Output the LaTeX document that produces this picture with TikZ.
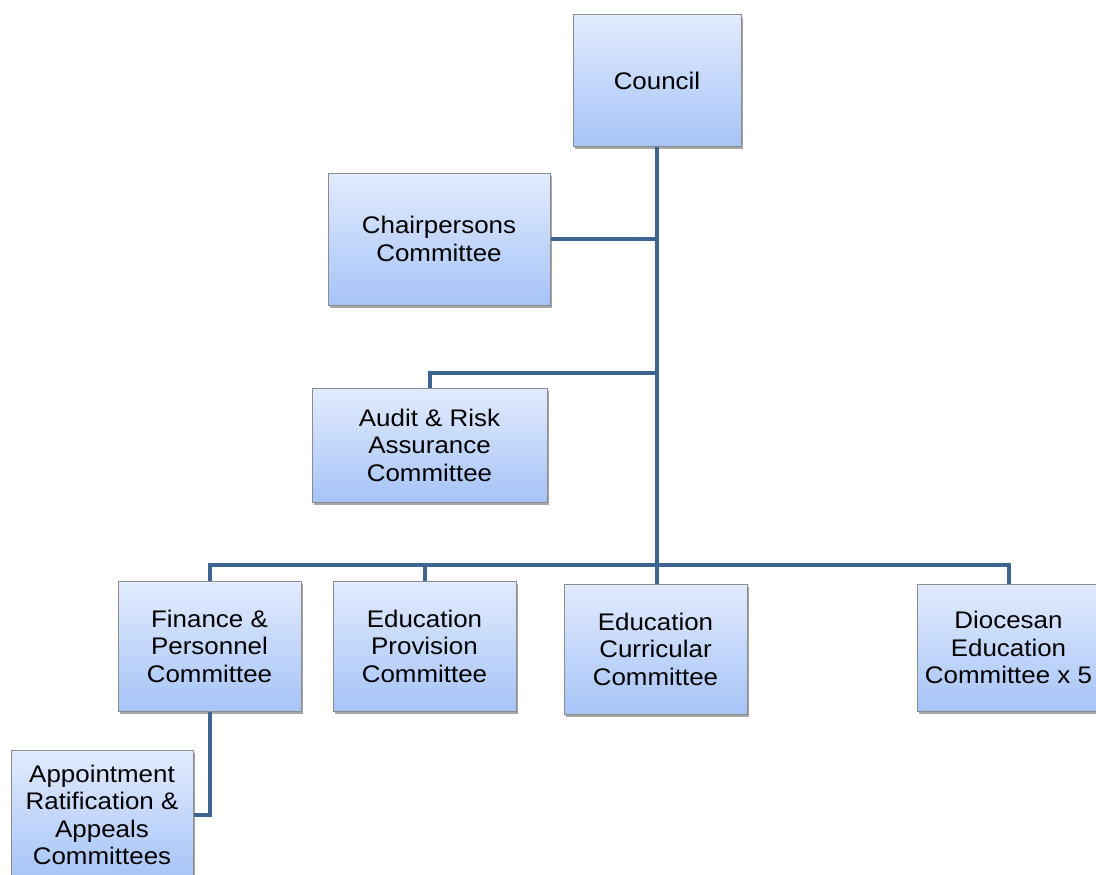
\documentclass[tikz,border=0pt]{standalone}
\usepackage{fontspec}
\setmainfont{Liberation Sans}[FakeStretch=1.08]
\usetikzlibrary{shadows}
\definecolor{boxtop}{RGB}{226,235,253}
\definecolor{boxbot}{RGB}{166,196,247}
\definecolor{boxline}{RGB}{140,140,140}
\definecolor{conn}{RGB}{62,100,146}
\tikzset{
  orgbox/.style={rectangle, draw=boxline, line width=1pt, top color=boxtop, bottom color=boxbot,
    align=center, inner sep=0pt, font=\fontsize{24}{27.5}\selectfont,
    drop shadow={shadow xshift=2pt, shadow yshift=-3pt, opacity=0.35, fill=black}},
  link/.style={draw=conn, line width=4pt, line join=miter}
}
\begin{document}
\begin{tikzpicture}[x=1pt,y=-1pt]
\useasboundingbox (0,0) rectangle (1096,875);
\clip (0,0) rectangle (1096,875);
\fill[white] (0,0) rectangle (1096,875);
% nodes
\node[orgbox, minimum width=168, minimum height=131] (council) at (657,80.5) {Council};
\node[orgbox, minimum width=222, minimum height=132] (chair) at (439,239) {Chairpersons\\Committee};
\node[orgbox, minimum width=235, minimum height=114] (audit) at (429.5,445) {Audit \& Risk\\Assurance\\Committee};
\node[orgbox, minimum width=183, minimum height=130] (fin) at (209.5,646) {Finance \&\\Personnel\\Committee};
\node[orgbox, minimum width=183, minimum height=130] (prov) at (424.5,646) {Education\\Provision\\Committee};
\node[orgbox, minimum width=183, minimum height=130] (curr) at (655.5,649) {Education\\Curricular\\Committee};
\node[orgbox, minimum width=183, minimum height=127] (dio) at (1008.5,647.5) {Diocesan\\Education\\Committee x 5};
\node[orgbox, minimum width=182, minimum height=130] (app) at (102,815) {Appointment\\Ratification \&\\Appeals\\Committees};
% junctions
\coordinate (ja) at (657,373);
\coordinate (bus) at (657,565);
% connectors
\draw[link] (council.south) -- (council.south |- curr.north);
\draw[link] (chair.east) -- (chair.east -| council.south);
\draw[link] (audit.north) |- (ja);
\draw[link] (fin.north) |- (dio.north |- bus) -- (dio.north);
\draw[link] (prov.north) -- (prov.north |- bus);
\draw[link] (fin.south) |- (app.east);
\end{tikzpicture}
\end{document}
